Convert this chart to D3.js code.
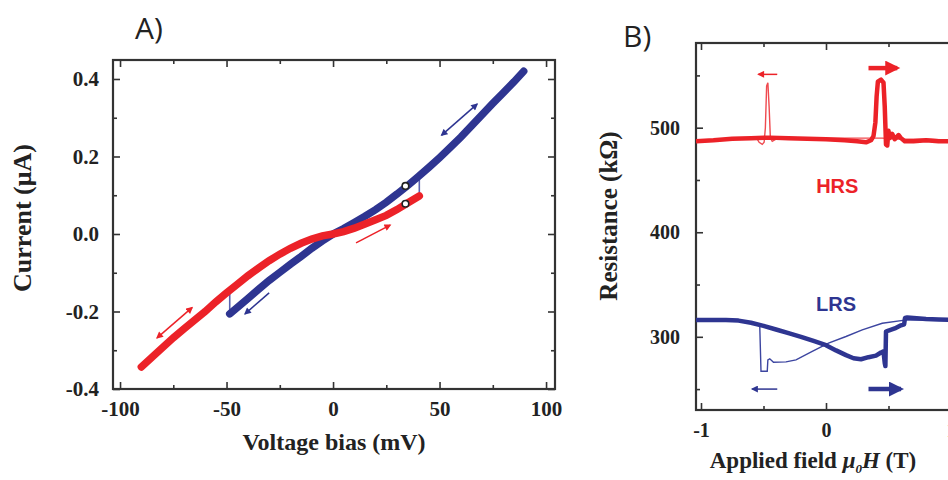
<!DOCTYPE html>
<html>
<head>
<meta charset="utf-8">
<title>I-V and magnetoresistance</title>
<script src="https://d3js.org/d3.v7.min.js"></script>
<style>
body { margin:0; background:#fff; }
svg text { fill:#222; }
.axis path { display:none; }
.axis line { stroke:#333; stroke-width:1.6; }
.lbl { font-family:"Liberation Serif", serif; font-weight:bold; }
</style>
</head>
<body>
<svg width="948" height="480"></svg>
<script>
// ---- panel A : I-V curves ----
var redV = [-90, -85, -80, -75, -70, -65, -60, -55, -50, -45, -40, -35, -30, -25, -20, -15, -10, -5, 0, 5, 10, 15, 20, 25, 30, 35, 40.5];
var redI = [-0.343, -0.318, -0.293, -0.268, -0.245, -0.222, -0.2, -0.175, -0.152, -0.13, -0.108, -0.088, -0.069, -0.052, -0.037, -0.024, -0.013, -0.005, 0, 0.006, 0.015, 0.026, 0.037, 0.048, 0.063, 0.08, 0.098];
var blueV = [-48.5, -45, -40, -35, -30, -25, -20, -15, -10, -5, 0, 5, 10, 15, 20, 25, 30, 35, 40, 45, 50, 55, 60, 65, 70, 75, 80, 85, 89.5];
var blueI = [-0.206, -0.19, -0.167, -0.143, -0.12, -0.099, -0.078, -0.058, -0.037, -0.018, 0, 0.014, 0.03, 0.046, 0.063, 0.082, 0.103, 0.125, 0.148, 0.172, 0.197, 0.223, 0.25, 0.279, 0.308, 0.337, 0.365, 0.393, 0.42];
// thin switching lines [V, I from, I to]
var jumpsA = [[-48.5, -0.206, -0.152], [40.5, 0.098, 0.15]];
// open markers [V, I]
var markersA = [[34, 0.124], [34, 0.078]];
// direction arrows [V1, I1, V2, I2, colour, double]
var arrowsA = [[51, 0.255, 67.6, 0.335, "blue", true], [10.8, -0.023, 26.8, 0.023, "red", false],
               [-30, -0.152, -41.3, -0.206, "blue", false], [-82.6, -0.268, -66.2, -0.19, "red", true]];
var xTicksA = [-100, -50, 0, 50, 100];
var xMinorA = [-75, -25, 25, 75];
var yTicksA = [-0.4, -0.2, 0.0, 0.2, 0.4];
var yMinorA = [-0.3, -0.1, 0.1, 0.3];

// ---- panel B : resistance vs field ----
var hrsUpH = [-1.04, -0.9, -0.75, -0.6, -0.45, -0.3, -0.15, 0, 0.15, 0.25, 0.32, 0.36, 0.38, 0.395, 0.405, 0.415, 0.44, 0.46, 0.47, 0.48, 0.49, 0.5, 0.51, 0.53, 0.55, 0.58, 0.6, 0.63, 0.7, 0.8, 0.9, 1.04];
var hrsUpR = [487, 488, 489.5, 490, 490.5, 490, 489.5, 489, 488, 487, 486, 488, 492, 505, 530, 544, 546, 543, 520, 484, 483, 497, 490, 494, 489, 493, 490, 487, 487, 488, 487, 487];
var hrsDnH = [1.04, 0.8, 0.6, 0.45, 0.3, 0, -0.3, -0.4, -0.43, -0.445, -0.455, -0.465, -0.475, -0.485, -0.495, -0.51, -0.535, -0.55, -0.6, -0.8, -1.04];
var hrsDnR = [488, 489, 489, 490, 490, 490, 490, 489, 487, 490, 520, 543, 540, 500, 486, 484, 486, 489, 490, 489, 488];
var lrsUpH = [-1.04, -0.8, -0.7, -0.6, -0.5, -0.4, -0.3, -0.2, -0.1, 0, 0.08, 0.16, 0.22, 0.28, 0.34, 0.4, 0.44, 0.46, 0.47, 0.475, 0.48, 0.5, 0.55, 0.6, 0.625, 0.632, 0.65, 0.7, 0.8, 0.9, 1.04];
var lrsUpR = [316, 316, 315.5, 313.5, 310.5, 307, 303.5, 300, 296, 292, 287, 282.5, 279.5, 278.5, 280.5, 282, 285, 286, 275, 272, 305, 306, 308, 311, 312, 318, 318.5, 318, 317, 316.5, 316];
var lrsDnH = [1.04, 0.8, 0.63, 0.45, 0.29, 0.16, 0.02, -0.11, -0.24, -0.32, -0.42, -0.45, -0.465, -0.47, -0.52, -0.53, -0.56, -0.64, -0.8, -1.04];
var lrsDnR = [316, 316, 316, 313, 306.7, 300.3, 294, 286, 278, 276, 275.6, 279, 278, 267, 267, 310.6, 312.8, 314, 316, 316];
// arrows [H1, R1, H2, R2, colour, thick]
var arrowsB = [[-0.39, 551, -0.54, 551, "red", false], [0.34, 557, 0.57, 557, "red", true],
               [-0.39, 250, -0.59, 250, "blue", false], [0.34, 250, 0.6, 250, "blue", true]];
var xTicksB = [-1, 0, 1];
var xMinorB = [-0.5, 0.5];
var yTicksB = [300, 400, 500];
var yMinorB = [250, 350, 450, 550];

var RED = "#ec2228", BLUE = "#2e3591";
var col = {red: RED, blue: BLUE};

var svg = d3.select("svg");
var defs = svg.append("defs");
function head(id, c, w, h) {
  defs.append("marker").attr("id", id).attr("markerUnits", "userSpaceOnUse")
    .attr("viewBox", "0 0 10 10").attr("refX", 8).attr("refY", 5)
    .attr("markerWidth", w).attr("markerHeight", h).attr("orient", "auto-start-reverse")
    .append("path").attr("d", "M0,0 L10,5 L0,10 Z").attr("fill", c);
}
head("hRs", RED, 8, 7); head("hBs", BLUE, 8, 7);
head("hRb", RED, 19, 15); head("hBb", BLUE, 19, 15);

function frame(x, y, xt, xm, yt, ym, fmtX, fmtY, padX, padY, fs) {
  var g = svg.append("g");
  var x0 = x.range()[0], x1 = x.range()[1], y0 = y.range()[0], y1 = y.range()[1];
  g.append("g").attr("class", "axis").attr("transform", "translate(0," + y0 + ")")
    .call(d3.axisBottom(x).tickValues(xt).tickSize(-7).tickPadding(padX).tickFormat(fmtX));
  g.append("g").attr("class", "axis").attr("transform", "translate(0," + y0 + ")")
    .call(d3.axisBottom(x).tickValues(xm).tickSize(-4).tickFormat(""));
  g.append("g").attr("class", "axis").attr("transform", "translate(0," + y1 + ")")
    .call(d3.axisTop(x).tickValues(xt).tickSize(-7).tickFormat(""));
  g.append("g").attr("class", "axis").attr("transform", "translate(0," + y1 + ")")
    .call(d3.axisTop(x).tickValues(xm).tickSize(-4).tickFormat(""));
  g.append("g").attr("class", "axis").attr("transform", "translate(" + x0 + ",0)")
    .call(d3.axisLeft(y).tickValues(yt).tickSize(-7).tickPadding(padY).tickFormat(fmtY));
  g.append("g").attr("class", "axis").attr("transform", "translate(" + x0 + ",0)")
    .call(d3.axisLeft(y).tickValues(ym).tickSize(-4).tickFormat(""));
  g.append("g").attr("class", "axis").attr("transform", "translate(" + x1 + ",0)")
    .call(d3.axisRight(y).tickValues(yt).tickSize(-7).tickFormat(""));
  g.append("g").attr("class", "axis").attr("transform", "translate(" + x1 + ",0)")
    .call(d3.axisRight(y).tickValues(ym).tickSize(-4).tickFormat(""));
  g.append("rect").attr("x", x0).attr("y", y1).attr("width", x1 - x0).attr("height", y0 - y1)
    .attr("fill", "none").attr("stroke", "#333").attr("stroke-width", 2.2);
  g.selectAll(".tick text")
    .style("font-family", "'Liberation Serif', 'Times New Roman', serif")
    .style("font-weight", "bold").style("font-size", fs + "px").style("fill", "#222")
    .text(function() { return this.textContent.replace("\u2212", "-"); });
  return g;
}

// ---------- panel A ----------
var xA = d3.scaleLinear().domain([-103.3, 104.2]).range([113, 555]);
var yA = d3.scaleLinear().domain([-0.4, 0.449]).range([389, 60]);
frame(xA, yA, xTicksA, xMinorA, yTicksA, yMinorA, d3.format("d"), d3.format(".1f"), 12, 14, 21);

var lineA = d3.line().x(function(d) { return xA(d[0]); }).y(function(d) { return yA(d[1]); });
var plotA = svg.append("g");
plotA.selectAll(".jump").data(jumpsA).enter().append("line")
  .attr("x1", function(d) { return xA(d[0]); }).attr("x2", function(d) { return xA(d[0]); })
  .attr("y1", function(d) { return yA(d[1]); }).attr("y2", function(d) { return yA(d[2]); })
  .attr("stroke", "#5a62b0").attr("stroke-width", 1.6);
plotA.append("path").datum(d3.zip(blueV, blueI)).attr("d", lineA)
  .attr("fill", "none").attr("stroke", BLUE).attr("stroke-width", 7.5).attr("stroke-linecap", "round");
plotA.append("path").datum(d3.zip(redV, redI)).attr("d", lineA)
  .attr("fill", "none").attr("stroke", RED).attr("stroke-width", 7.5).attr("stroke-linecap", "round");
plotA.selectAll(".mk").data(markersA).enter().append("circle")
  .attr("cx", function(d) { return xA(d[0]); }).attr("cy", function(d) { return yA(d[1]); })
  .attr("r", 3.3).attr("fill", "#fff").attr("stroke", "#222").attr("stroke-width", 1.6);
plotA.selectAll(".ar").data(arrowsA).enter().append("line")
  .attr("x1", function(d) { return xA(d[0]); }).attr("y1", function(d) { return yA(d[1]); })
  .attr("x2", function(d) { return xA(d[2]); }).attr("y2", function(d) { return yA(d[3]); })
  .attr("stroke", function(d) { return col[d[4]]; }).attr("stroke-width", 1.5)
  .attr("marker-end", function(d) { return d[4] == "red" ? "url(#hRs)" : "url(#hBs)"; })
  .attr("marker-start", function(d) { return d[5] ? (d[4] == "red" ? "url(#hRs)" : "url(#hBs)") : null; });

svg.append("text").attr("class", "lbl").attr("x", 334).attr("y", 450).attr("text-anchor", "middle")
  .style("font-size", "24px").text("Voltage bias (mV)");
svg.append("text").attr("class", "lbl").attr("transform", "translate(31,218) rotate(-90)")
  .attr("text-anchor", "middle").style("font-size", "26px").text("Current (\u03bcA)");
svg.append("text").attr("x", 135).attr("y", 39).style("font-family", "'Open Sans', sans-serif")
  .style("font-size", "30px").text("A)");

// ---------- panel B ----------
var xB = d3.scaleLinear().domain([-1.04, 1.04]).range([696, 956]);
var yB = d3.scaleLinear().domain([230, 581]).range([410, 43]);
frame(xB, yB, xTicksB, xMinorB, yTicksB, yMinorB, d3.format("d"), d3.format("d"), 13, 16, 20);

var lineB = d3.line().x(function(d) { return xB(d[0]); }).y(function(d) { return yB(d[1]); });
var plotB = svg.append("g");
plotB.append("path").datum(d3.zip(hrsDnH, hrsDnR)).attr("d", lineB)
  .attr("fill", "none").attr("stroke", "#ef4a4f").attr("stroke-width", 1.4);
plotB.append("path").datum(d3.zip(hrsUpH, hrsUpR)).attr("d", lineB)
  .attr("fill", "none").attr("stroke", RED).attr("stroke-width", 4.5).attr("stroke-linejoin", "round");
plotB.append("path").datum(d3.zip(lrsDnH, lrsDnR)).attr("d", lineB)
  .attr("fill", "none").attr("stroke", "#3c45a0").attr("stroke-width", 1.4);
plotB.append("path").datum(d3.zip(lrsUpH, lrsUpR)).attr("d", lineB)
  .attr("fill", "none").attr("stroke", BLUE).attr("stroke-width", 4.5).attr("stroke-linejoin", "round");
plotB.selectAll(".ar").data(arrowsB).enter().append("line")
  .attr("x1", function(d) { return xB(d[0]); }).attr("y1", function(d) { return yB(d[1]); })
  .attr("x2", function(d) { return xB(d[2]); }).attr("y2", function(d) { return yB(d[3]); })
  .attr("stroke", function(d) { return col[d[4]]; })
  .attr("stroke-width", function(d) { return d[5] ? 4.5 : 1.5; })
  .attr("marker-end", function(d) {
    return "url(#h" + (d[4] == "red" ? "R" : "B") + (d[5] ? "b" : "s") + ")"; });

svg.append("text").attr("x", xB(0.09)).attr("y", yB(438)).attr("text-anchor", "middle")
  .style("font-family", "'Liberation Sans', Arial, sans-serif").style("font-weight", "bold")
  .style("font-size", "20px").style("fill", RED).text("HRS");
svg.append("text").attr("x", xB(0.08)).attr("y", yB(325)).attr("text-anchor", "middle")
  .style("font-family", "'Liberation Sans', Arial, sans-serif").style("font-weight", "bold")
  .style("font-size", "20px").style("fill", BLUE).text("LRS");

var xl = svg.append("text").attr("class", "lbl").attr("x", 813).attr("y", 468)
  .attr("text-anchor", "middle").style("font-size", "23px");
xl.append("tspan").text("Applied field ");
xl.append("tspan").style("font-style", "italic").text("\u03bc");
xl.append("tspan").style("font-style", "italic").style("font-size", "13px").attr("dy", 5).text("0");
xl.append("tspan").style("font-style", "italic").attr("dy", -5).text("H");
xl.append("tspan").text(" (T)");
svg.append("text").attr("class", "lbl").attr("transform", "translate(617,216) rotate(-90)")
  .attr("text-anchor", "middle").style("font-size", "25px").text("Resistance (k\u03a9)");
svg.append("text").attr("x", 623).attr("y", 47).style("font-family", "'Open Sans', sans-serif")
  .style("font-size", "30px").text("B)");
</script>
</body>
</html>
